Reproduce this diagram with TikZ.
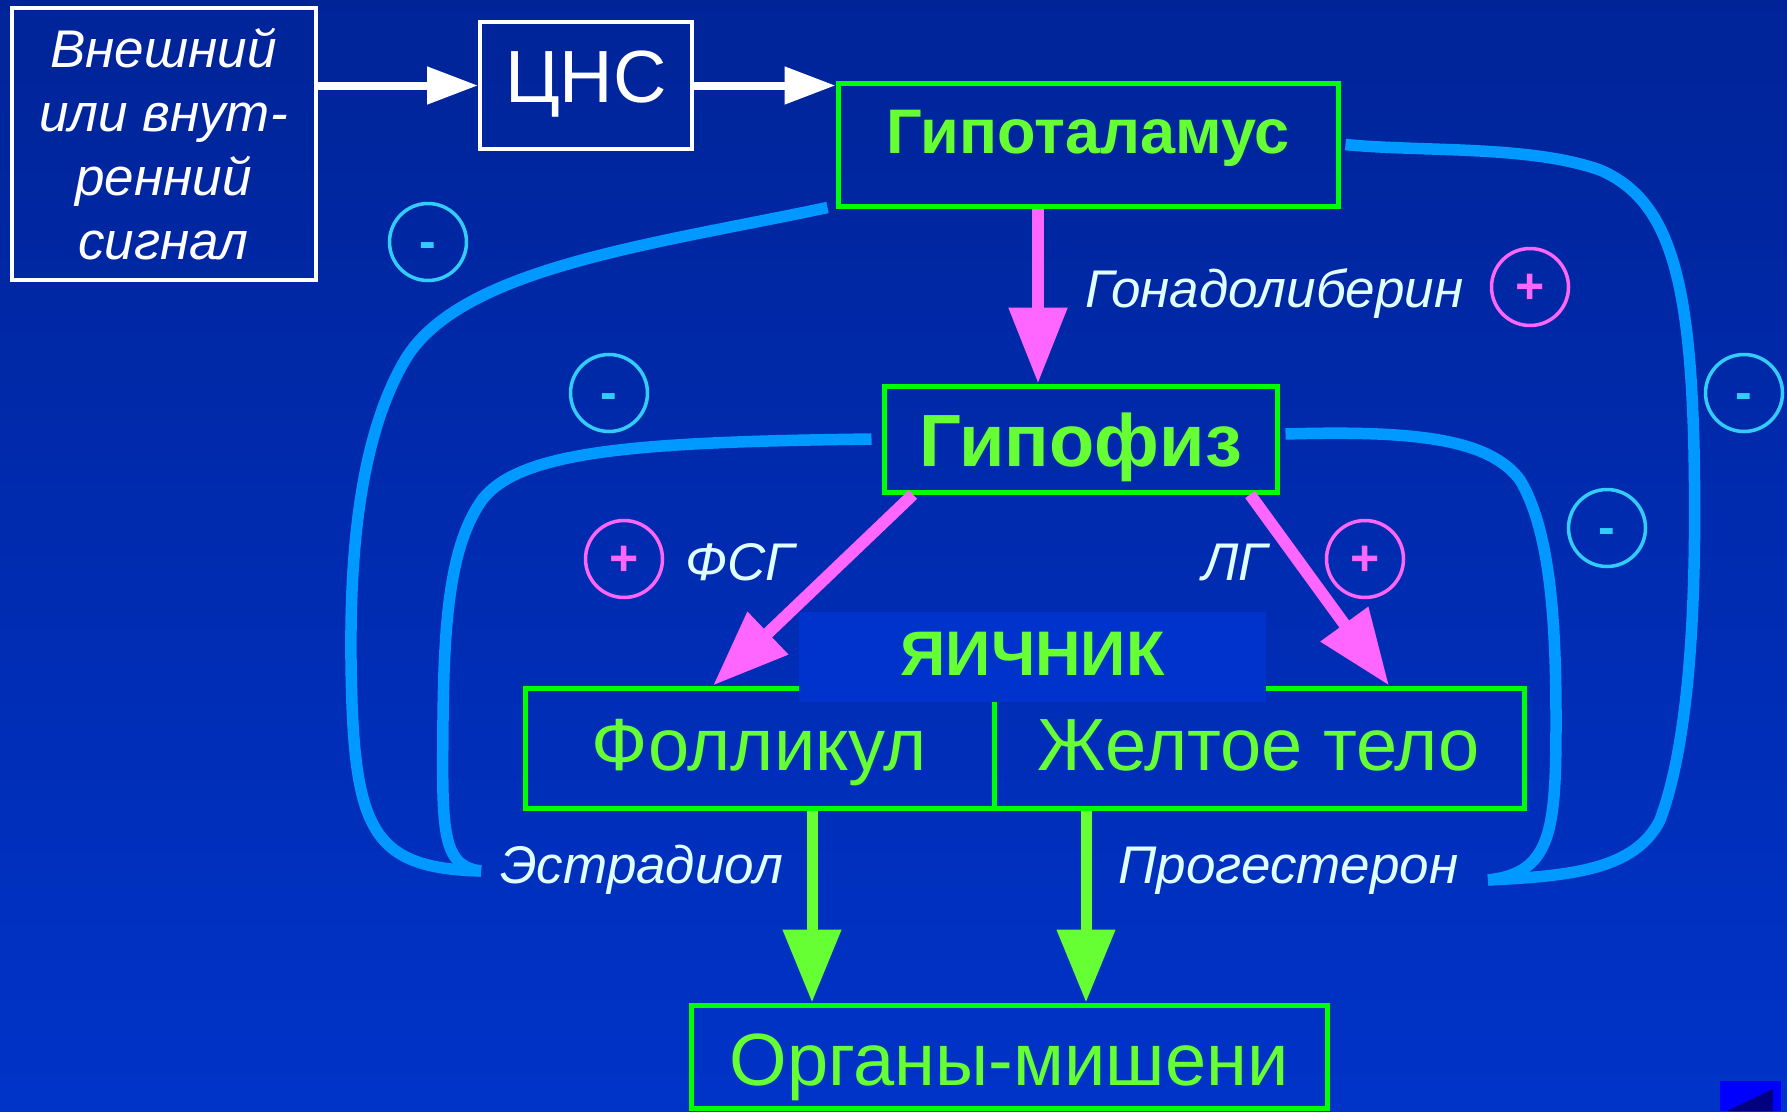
\documentclass[tikz,border=0pt]{standalone}
\usepackage{fontspec}
\setmainfont{Liberation Sans}
\usetikzlibrary{arrows.meta}
\definecolor{bgtop}{RGB}{0,36,152}
\definecolor{bgbot}{RGB}{0,51,200}
\definecolor{boxgreen}{RGB}{0,255,0}
\definecolor{txtgreen}{RGB}{102,255,51}
\definecolor{mag}{RGB}{255,102,255}
\definecolor{fbblue}{RGB}{0,153,255}
\definecolor{minuscol}{RGB}{51,204,255}
\definecolor{lblcol}{RGB}{224,255,255}
\definecolor{ovfill}{RGB}{0,51,204}
\definecolor{cornerblue}{RGB}{0,0,255}
\definecolor{cornerdark}{RGB}{0,0,128}
\tikzset{
  gbox/.style={draw=boxgreen, line width=5pt, rectangle, inner sep=0pt, text=txtgreen},
  wbox/.style={draw=white, line width=4pt, rectangle, inner sep=0pt, text=white},
  lbl/.style={text=lblcol, inner sep=0pt, anchor=base west, font=\fontsize{53}{60}\selectfont\itshape},
  mcirc/.style={circle, draw=minuscol, line width=3.5pt, minimum size=77pt, inner sep=0pt, text=minuscol,
     font=\fontsize{50}{60}\selectfont\bfseries, text height=32pt, text depth=0pt},
  pcirc/.style={circle, draw=mag, line width=3.5pt, minimum size=77pt, inner sep=0pt, text=mag,
     font=\fontsize{50}{60}\selectfont\bfseries, text height=32pt, text depth=0pt},
  fb/.style={draw=fbblue, line width=11.5pt},
  warrow/.style={draw=white, line width=8pt, -{Triangle[length=51pt,width=36pt]}},
  marrow/.style={draw=mag, line width=12pt, -{Triangle[length=76pt,width=56pt]}},
  garrow/.style={draw=txtgreen, line width=11pt, -{Triangle[length=73pt,width=56pt]}},
}
\begin{document}
\begin{tikzpicture}[x=1pt,y=-1pt]
\shade[top color=bgtop,bottom color=bgbot] (0,0) rectangle (1787,1111);
\useasboundingbox (0,0) rectangle (1787,1111);

% boxes
\node[wbox, minimum width=304pt, minimum height=272pt, align=center,
      font=\fontsize{53}{64}\selectfont\itshape] (sig) at (163.5,144)
      {Внешний\\или внут-\\ренний\\сигнал};
\node[wbox, minimum width=212pt, minimum height=127pt,
      font=\fontsize{74}{80}\selectfont, text height=53pt, text depth=20pt] (cns) at (586,85.5) {ЦНС};
\node[gbox, minimum width=500pt, minimum height=123pt,
      font=\fontsize{63}{70}\selectfont\bfseries, text height=45pt, text depth=28pt] (hyp) at (1088,144.5) {Гипоталамус};
\node[gbox, minimum width=393pt, minimum height=106pt,
      font=\fontsize{74}{80}\selectfont\bfseries, text height=60pt, text depth=6pt] (hypo) at (1080.5,439) {Гипофиз};
\node[gbox, minimum width=469pt, minimum height=120pt,
      font=\fontsize{74}{80}\selectfont, text height=53pt, text depth=9pt] (foll) at (759.5,748) {Фолликул};
\node[gbox, minimum width=530pt, minimum height=120pt,
      font=\fontsize{74}{80}\selectfont, text height=53pt, text depth=9pt] (corp) at (1259,748) {Желтое тело};
\node[fill=ovfill, minimum width=467pt, minimum height=90pt, inner sep=0pt, text=txtgreen,
      font=\fontsize{63}{70}\selectfont\bfseries, text height=45pt, text depth=9pt] (ov) at (1032.5,657) {ЯИЧНИК};
\node[gbox, minimum width=636pt, minimum height=103pt,
      font=\fontsize{74}{80}\selectfont, text height=60pt, text depth=3pt] (org) at (1009,1056.5) {Органы-мишени};

% labels
\node[lbl] (gnrh) at (1085,307) {Гонадолиберин};
\node[lbl] (fsh) at (685,580) {ФСГ};
\node[lbl] (lh) at (1202,580) {ЛГ};
\node[lbl] (estr) at (500,883) {Эстрадиол};
\node[lbl] (prog) at (1118,883) {Прогестерон};

% sign circles
\node[mcirc] (m1) at (428,242) {-};
\node[mcirc] (m2) at (609,393) {-};
\node[mcirc] (m3) at (1607,528) {-};
\node[mcirc] (m4) at (1744,393) {-};
\node[pcirc] (p1) at (624,559) {+};
\node[pcirc] (p2) at (1365,559) {+};
\node[pcirc] (p3) at (1530,287) {+};

% feedback curves
\coordinate (eend) at (481,871);
\coordinate (pend) at (1488,880);
\draw[fb] ([xshift=-8pt,yshift=1pt]hyp.south west) .. controls (650,245) and (460,268) .. (405,360)
   .. controls (358,440) and (350,560) .. (351,660)
   .. controls (353,830) and (370,868) .. (eend);
\draw[fb] ([xshift=-10pt]hypo.west) .. controls (640,442) and (520,450) .. (482,500)
   .. controls (450,545) and (444,620) .. (443,720)
   .. controls (442,830) and (441,866) .. (eend);
\draw[fb] ([xshift=6pt,yshift=5pt]hypo.east) .. controls (1420,430) and (1490,440) .. (1520,480)
   .. controls (1550,530) and (1556,620) .. (1556,720)
   .. controls (1556,830) and (1552,873) .. (pend);
\draw[fb] ([xshift=5pt]hyp.east) .. controls (1420,152) and (1530,145) .. (1600,170)
   .. controls (1670,200) and (1690,280) .. (1694,450)
   .. controls (1697,600) and (1690,740) .. (1660,820)
   .. controls (1635,870) and (1570,876) .. (pend);

% arrows
\draw[warrow] (sig.east |- cns.west) -- (cns.west);
\draw[warrow] (cns.east) -- (hyp.west |- cns.east);
\draw[marrow] ([xshift=-50pt]hyp.south) -- ([xshift=-42.5pt]hypo.north);
\draw[marrow] ([xshift=-167.5pt]hypo.south) -- ([xshift=-46.5pt]foll.north);
\draw[marrow] ([xshift=169.5pt]hypo.south) -- ([xshift=130pt]corp.north);
\draw[garrow] ([xshift=52.5pt]foll.south) -- ([xshift=-197pt]org.north);
\draw[garrow] ([xshift=-173pt]corp.south) -- ([xshift=77pt]org.north);

% corner mark
\fill[cornerblue] (1720,1081) rectangle (1781,1111);
\fill[cornerdark] (1727,1111) -- (1773,1089) -- (1773,1111) -- cycle;
\end{tikzpicture}
\end{document}
